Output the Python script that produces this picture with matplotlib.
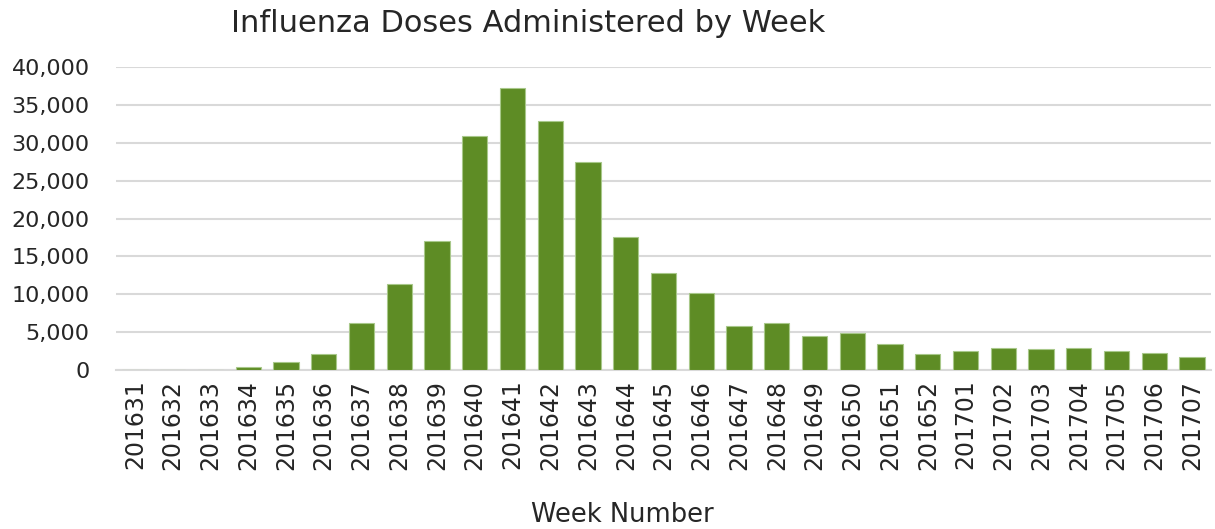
import matplotlib
matplotlib.use("Agg")
import matplotlib.pyplot as plt
from matplotlib.ticker import FuncFormatter

weeks = ["201631", "201632", "201633", "201634", "201635", "201636", "201637",
         "201638", "201639", "201640", "201641", "201642", "201643", "201644",
         "201645", "201646", "201647", "201648", "201649", "201650", "201651",
         "201652", "201701", "201702", "201703", "201704", "201705", "201706",
         "201707"]
doses = [0, 0, 0, 400, 1000, 2150, 6200, 11400, 17050, 30900, 37200, 32900,
         27400, 17600, 12800, 10200, 5800, 6250, 4450, 4850, 3450, 2100, 2450,
         2950, 2750, 2850, 2500, 2200, 1700]

plt.rcParams['font.family'] = ['DejaVu Sans']

fig = plt.figure(figsize=(12.15, 5.29), dpi=100)
ax = fig.add_axes([0.0955, 0.3006, 0.9012, 0.5727])

x = list(range(len(weeks)))
ax.bar(x, doses, width=0.67, color='#5E8C25', edgecolor='#A8C88A', linewidth=0.8, zorder=3)

ax.set_xlim(-0.5, len(weeks) - 0.5)
ax.set_ylim(0, 40000)
ax.set_yticks(range(0, 40001, 5000))
ax.yaxis.set_major_formatter(FuncFormatter(lambda v, p: f"{int(v):,}"))
ax.set_xticks(x)
ax.set_xticklabels(weeks, rotation=90)
ax.grid(axis='y', color='#D9D9D9', linewidth=1.5, zorder=0)
for s in ['top', 'right', 'left']:
    ax.spines[s].set_visible(False)
ax.spines['bottom'].set_color('#D9D9D9')
ax.spines['bottom'].set_linewidth(1.5)
ax.tick_params(axis='y', length=0, pad=19, labelsize=16, labelcolor='#262626')
ax.tick_params(axis='x', length=0, pad=7, labelsize=17, labelcolor='#262626')

fig.text(528 / 1215, 1 - 24 / 529, "Influenza Doses Administered by Week",
         ha='center', va='center', fontsize=22, color='#262626')
fig.text(622 / 1215, 1 - 515 / 529, "Week Number", ha='center', va='center',
         fontsize=18.5, color='#262626')

fig.savefig("out.png", dpi=100)
